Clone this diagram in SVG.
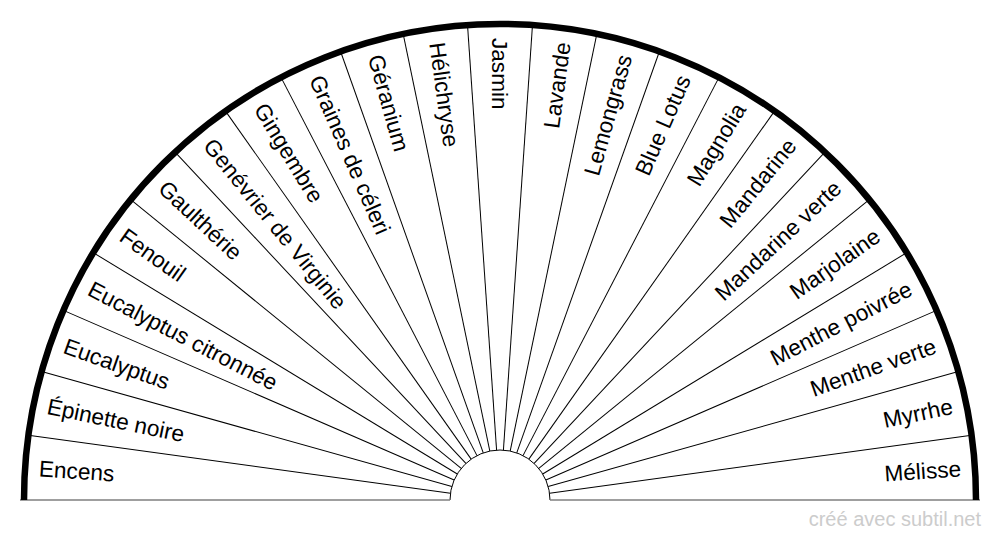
<svg xmlns="http://www.w3.org/2000/svg" width="1000" height="540" viewBox="0 0 1000 540">
<style>
.lbl{font-family:"Liberation Sans",Arial,sans-serif;font-size:22.6px;fill:#000}
.l{text-anchor:start}
.r{text-anchor:end}
.sp{stroke:#000;stroke-width:1;fill:none}
.wm{font-family:"Liberation Sans",Arial,sans-serif;font-size:20px;fill:#cccccc;text-anchor:end}
</style>
<rect width="1000" height="540" fill="#fff"/>
<g id="connectors">
<line class="sp" x1="24" y1="500" x2="450" y2="500" transform="rotate(7.826 500 500)"/>
<line class="sp" x1="24" y1="500" x2="450" y2="500" transform="rotate(15.652 500 500)"/>
<line class="sp" x1="24" y1="500" x2="450" y2="500" transform="rotate(23.478 500 500)"/>
<line class="sp" x1="24" y1="500" x2="450" y2="500" transform="rotate(31.304 500 500)"/>
<line class="sp" x1="24" y1="500" x2="450" y2="500" transform="rotate(39.130 500 500)"/>
<line class="sp" x1="24" y1="500" x2="450" y2="500" transform="rotate(46.957 500 500)"/>
<line class="sp" x1="24" y1="500" x2="450" y2="500" transform="rotate(54.783 500 500)"/>
<line class="sp" x1="24" y1="500" x2="450" y2="500" transform="rotate(62.609 500 500)"/>
<line class="sp" x1="24" y1="500" x2="450" y2="500" transform="rotate(70.435 500 500)"/>
<line class="sp" x1="24" y1="500" x2="450" y2="500" transform="rotate(78.261 500 500)"/>
<line class="sp" x1="24" y1="500" x2="450" y2="500" transform="rotate(86.087 500 500)"/>
<line class="sp" x1="24" y1="500" x2="450" y2="500" transform="rotate(93.913 500 500)"/>
<line class="sp" x1="24" y1="500" x2="450" y2="500" transform="rotate(101.739 500 500)"/>
<line class="sp" x1="24" y1="500" x2="450" y2="500" transform="rotate(109.565 500 500)"/>
<line class="sp" x1="24" y1="500" x2="450" y2="500" transform="rotate(117.391 500 500)"/>
<line class="sp" x1="24" y1="500" x2="450" y2="500" transform="rotate(125.217 500 500)"/>
<line class="sp" x1="24" y1="500" x2="450" y2="500" transform="rotate(133.043 500 500)"/>
<line class="sp" x1="24" y1="500" x2="450" y2="500" transform="rotate(140.870 500 500)"/>
<line class="sp" x1="24" y1="500" x2="450" y2="500" transform="rotate(148.696 500 500)"/>
<line class="sp" x1="24" y1="500" x2="450" y2="500" transform="rotate(156.522 500 500)"/>
<line class="sp" x1="24" y1="500" x2="450" y2="500" transform="rotate(164.348 500 500)"/>
<line class="sp" x1="24" y1="500" x2="450" y2="500" transform="rotate(172.174 500 500)"/>
<path class="sp" d="M450 500A50 50 0 0 1 550 500"/>
<path d="M20 500H450M550 500H980" stroke="#808080" stroke-width="1.6" fill="none"/>
<path d="M24 500A476 476 0 0 1 976 500" stroke="#000" stroke-width="6.5" fill="none"/>
</g>
<g id="n0"><text class="lbl l" x="38" y="500" dy="0.35em" transform="rotate(3.913 500 500)">Encens</text></g>
<g id="n1"><text class="lbl l" x="38" y="500" dy="0.35em" transform="rotate(11.739 500 500)">Épinette noire</text></g>
<g id="n2"><text class="lbl l" x="38" y="500" dy="0.35em" transform="rotate(19.565 500 500)">Eucalyptus</text></g>
<g id="n3"><text class="lbl l" x="38" y="500" dy="0.35em" transform="rotate(27.391 500 500)">Eucalyptus citronnée</text></g>
<g id="n4"><text class="lbl l" x="38" y="500" dy="0.35em" transform="rotate(35.217 500 500)">Fenouil</text></g>
<g id="n5"><text class="lbl l" x="38" y="500" dy="0.35em" transform="rotate(43.043 500 500)">Gaulthérie</text></g>
<g id="n6"><text class="lbl l" x="38" y="500" dy="0.35em" transform="rotate(50.870 500 500)">Genévrier de Virginie</text></g>
<g id="n7"><text class="lbl l" x="38" y="500" dy="0.35em" transform="rotate(58.696 500 500)">Gingembre</text></g>
<g id="n8"><text class="lbl l" x="38" y="500" dy="0.35em" transform="rotate(66.522 500 500)">Graines de céleri</text></g>
<g id="n9"><text class="lbl l" x="38" y="500" dy="0.35em" transform="rotate(74.348 500 500)">Géranium</text></g>
<g id="n10"><text class="lbl l" x="38" y="500" dy="0.35em" transform="rotate(82.174 500 500)">Hélichryse</text></g>
<g id="n11"><text class="lbl l" x="38" y="500" dy="0.35em" transform="rotate(90 500 500)">Jasmin</text></g>
<g id="n12"><text class="lbl r" x="962" y="500" dy="0.35em" transform="rotate(-82.174 500 500)">Lavande</text></g>
<g id="n13"><text class="lbl r" x="962" y="500" dy="0.35em" transform="rotate(-74.348 500 500)">Lemongrass</text></g>
<g id="n14"><text class="lbl r" x="962" y="500" dy="0.35em" transform="rotate(-66.522 500 500)">Blue Lotus</text></g>
<g id="n15"><text class="lbl r" x="962" y="500" dy="0.35em" transform="rotate(-58.696 500 500)">Magnolia</text></g>
<g id="n16"><text class="lbl r" x="962" y="500" dy="0.35em" transform="rotate(-50.870 500 500)">Mandarine</text></g>
<g id="n17"><text class="lbl r" x="962" y="500" dy="0.35em" transform="rotate(-43.043 500 500)">Mandarine verte</text></g>
<g id="n18"><text class="lbl r" x="962" y="500" dy="0.35em" transform="rotate(-35.217 500 500)">Marjolaine</text></g>
<g id="n19"><text class="lbl r" x="962" y="500" dy="0.35em" transform="rotate(-27.391 500 500)">Menthe poivrée</text></g>
<g id="n20"><text class="lbl r" x="962" y="500" dy="0.35em" transform="rotate(-19.565 500 500)">Menthe verte</text></g>
<g id="n21"><text class="lbl r" x="962" y="500" dy="0.35em" transform="rotate(-11.739 500 500)">Myrrhe</text></g>
<g id="n22"><text class="lbl r" x="962" y="500" dy="0.35em" transform="rotate(-3.913 500 500)">Mélisse</text></g>
<text class="wm" x="981" y="526">créé avec subtil.net</text>
</svg>
